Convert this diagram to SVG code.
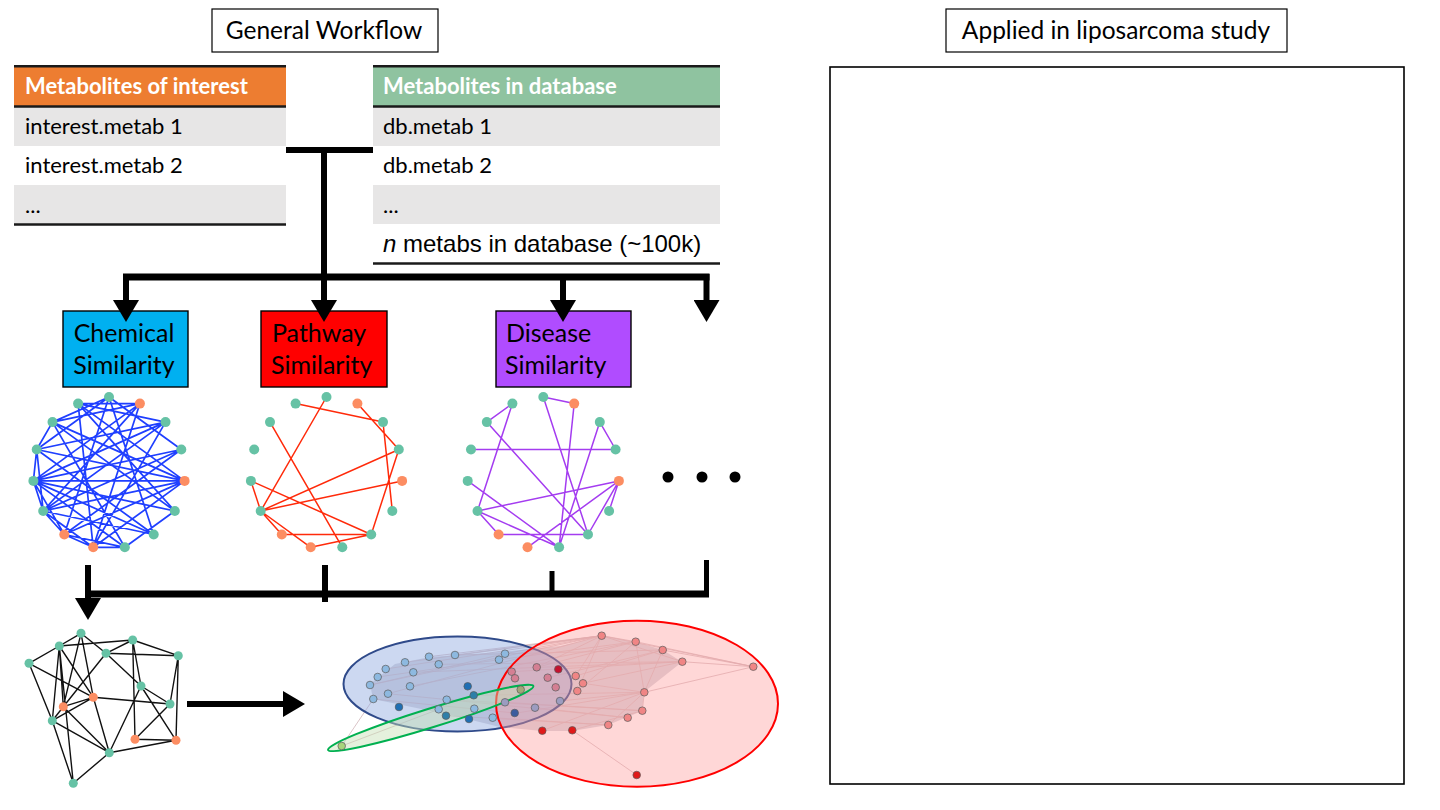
<svg xmlns="http://www.w3.org/2000/svg" xmlns:xlink="http://www.w3.org/1999/xlink" width="1440" height="810" viewBox="0 0 1440 810">
<style>
.t{font-family:Lato,"Open Sans","Liberation Sans",sans-serif;fill:#000}
.ar{font-family:"Liberation Sans",Arial,sans-serif;fill:#000}
.hd{font-weight:bold;fill:#fff}
.rule{stroke:#1a1a1a;stroke-width:2.6}
.gray{fill:#E7E6E6}
.conn{stroke:#000;fill:none;stroke-linecap:butt}
.gn{fill:#66C2A5}
.on{fill:#FC8D62}
.bk{stroke:#111;stroke-width:1.4;fill:none}
.cn{stroke:#5a5a5a;stroke-width:0.7}
.le{stroke:#D2B6BA;stroke-width:0.8;fill:none}
</style>
<defs>
<marker id="ah" markerUnits="userSpaceOnUse" viewBox="0 0 22 26" refX="0" refY="13" markerWidth="22" markerHeight="26" orient="auto">
<path d="M0,0 L22,13 L0,26 Z" fill="#000"/>
</marker>
<g id="ring">
<circle cx="0" cy="-76" r="5" class="gn"/>
<circle cx="30.9" cy="-69.4" r="5" class="on"/>
<circle cx="56.5" cy="-50.9" r="5" class="gn"/>
<circle cx="72.3" cy="-23.5" r="5" class="gn"/>
<circle cx="75.6" cy="7.9" r="5" class="on"/>
<circle cx="65.8" cy="38" r="5" class="gn"/>
<circle cx="44.7" cy="61.5" r="5" class="gn"/>
<circle cx="15.8" cy="74.3" r="5" class="gn"/>
<circle cx="-15.8" cy="74.3" r="5" class="on"/>
<circle cx="-44.7" cy="61.5" r="5" class="on"/>
<circle cx="-65.8" cy="38" r="5" class="gn"/>
<circle cx="-75.6" cy="7.9" r="5" class="gn"/>
<circle cx="-72.3" cy="-23.5" r="5" class="gn"/>
<circle cx="-56.5" cy="-50.9" r="5" class="gn"/>
<circle cx="-30.9" cy="-69.4" r="5" class="gn"/>
</g>
</defs>
<rect width="1440" height="810" fill="#fff"/>

<g id="title-general">
<rect x="212" y="9" width="226" height="43" fill="#fff" stroke="#000" stroke-width="1.2"/>
<text class="t" x="324" y="39" font-size="24.5" text-anchor="middle">General Workflow</text>
</g>
<g id="title-applied">
<rect x="946" y="9" width="341" height="43" fill="#fff" stroke="#000" stroke-width="1.2"/>
<text class="t" x="1116" y="39" font-size="24.5" text-anchor="middle">Applied in liposarcoma study</text>
</g>
<g id="applied-panel">
<rect x="830" y="67" width="574" height="717" fill="#fff" stroke="#000" stroke-width="1.6"/>
</g>

<g id="table-interest">
<rect x="14" y="67" width="272" height="39" fill="#ED7D31"/>
<rect x="14" y="107" width="272" height="39" class="gray"/>
<rect x="14" y="185" width="272" height="39" class="gray"/>
<line x1="14" y1="66.3" x2="286" y2="66.3" class="rule"/>
<line x1="14" y1="106.5" x2="286" y2="106.5" class="rule" stroke-width="3"/>
<line x1="14" y1="224.5" x2="286" y2="224.5" class="rule"/>
<text class="t hd" x="25" y="94" font-size="22">Metabolites of interest</text>
<text class="t" x="25" y="134" font-size="22">interest.metab 1</text>
<text class="t" x="25" y="173" font-size="22">interest.metab 2</text>
<text class="t" x="25" y="213" font-size="22">...</text>
</g>

<g id="table-database">
<rect x="373" y="67" width="347" height="39" fill="#8FC3A0"/>
<rect x="373" y="107" width="347" height="39" class="gray"/>
<rect x="373" y="185" width="347" height="39" class="gray"/>
<line x1="373" y1="66.3" x2="720" y2="66.3" class="rule"/>
<line x1="373" y1="106.5" x2="720" y2="106.5" class="rule" stroke-width="3"/>
<line x1="373" y1="263.5" x2="720" y2="263.5" class="rule"/>
<text class="t hd" x="383" y="94" font-size="22">Metabolites in database</text>
<text class="t" x="383" y="134" font-size="22">db.metab 1</text>
<text class="t" x="383" y="173" font-size="22">db.metab 2</text>
<text class="t" x="383" y="213" font-size="22">...</text>
<text class="ar" x="383" y="252" font-size="24"><tspan font-style="italic">n</tspan> metabs in database (~100k)</text>
</g>

<g id="box-chemical">
<rect x="63" y="311" width="125" height="76" fill="#00B0F0" stroke="#000" stroke-width="1.4"/>
<text class="t" x="124" y="342" font-size="25" text-anchor="middle">Chemical</text>
<text class="t" x="124" y="374" font-size="25" text-anchor="middle">Similarity</text>
</g>
<g id="box-pathway">
<rect x="261" y="311" width="126" height="76" fill="#FF0000" stroke="#000" stroke-width="1.4"/>
<text class="t" x="272" y="342" font-size="25">Pathway</text>
<text class="t" x="271" y="374" font-size="25">Similarity</text>
</g>
<g id="box-disease">
<rect x="496" y="311" width="135" height="76" fill="#B04CFF" stroke="#000" stroke-width="1.4"/>
<text class="t" x="506" y="342" font-size="25">Disease</text>
<text class="t" x="505" y="374" font-size="25">Similarity</text>
</g>

<g id="net-chemical" transform="translate(109,473)">
<path fill="none" stroke="#1F3FFF" stroke-width="1.7" d="M0,-76L-56.5,-50.9 M0,-76L-72.3,-23.5 M0,-76L44.7,61.5 M0,-76L-44.7,61.5 M0,-76L72.3,-23.5 M30.9,-69.4L-56.5,-50.9 M30.9,-69.4L-75.6,7.9 M30.9,-69.4L-65.8,38 M30.9,-69.4L-15.8,74.3 M30.9,-69.4L-30.9,-69.4 M-30.9,-69.4L56.5,-50.9 M-30.9,-69.4L-15.8,74.3 M-30.9,-69.4L65.8,38 M-30.9,-69.4L75.6,7.9 M-56.5,-50.9L65.8,38 M-56.5,-50.9L75.6,7.9 M-56.5,-50.9L15.8,74.3 M56.5,-50.9L-72.3,-23.5 M56.5,-50.9L-75.6,7.9 M56.5,-50.9L-65.8,38 M56.5,-50.9L-15.8,74.3 M72.3,-23.5L-75.6,7.9 M72.3,-23.5L-65.8,38 M72.3,-23.5L-44.7,61.5 M75.6,7.9L-75.6,7.9 M75.6,7.9L-65.8,38 M75.6,7.9L-72.3,-23.5 M75.6,7.9L-44.7,61.5 M75.6,7.9L-15.8,74.3 M65.8,38L-75.6,7.9 M65.8,38L15.8,74.3 M44.7,61.5L-72.3,-23.5 M44.7,61.5L-75.6,7.9 M44.7,61.5L-65.8,38 M15.8,74.3L-44.7,61.5 M15.8,74.3L-15.8,74.3 M15.8,74.3L-75.6,7.9 M-15.8,74.3L-44.7,61.5 M-15.8,74.3L-65.8,38 M-44.7,61.5L-65.8,38 M-44.7,61.5L-75.6,7.9 M-65.8,38L-72.3,-23.5 M-65.8,38L-75.6,7.9 M-75.6,7.9L-72.3,-23.5 M-72.3,-23.5L-56.5,-50.9"/>
<use href="#ring" xlink:href="#ring"/>
</g>

<g id="net-pathway" transform="translate(326.5,473)">
<path fill="none" stroke="#FF2A0A" stroke-width="1.5" d="M-30.9,-69.4L56.5,-50.9 M30.9,-69.4L72.3,-23.5 M56.5,-50.9L65.8,38 M0,-76L-65.8,38 M-56.5,-50.9L15.8,74.3 M72.3,-23.5L-65.8,38 M72.3,-23.5L44.7,61.5 M75.6,7.9L-65.8,38 M-75.6,7.9L-65.8,38 M-75.6,7.9L44.7,61.5 M-65.8,38L-44.7,61.5 M-65.8,38L-15.8,74.3 M-44.7,61.5L44.7,61.5 M-15.8,74.3L44.7,61.5"/>
<use href="#ring" xlink:href="#ring"/>
</g>

<g id="net-disease" transform="translate(543.3,473)">
<path fill="none" stroke="#A43CF0" stroke-width="1.5" d="M-56.5,-50.9L-30.9,-69.4 M-30.9,-69.4L-65.8,38 M-56.5,-50.9L44.7,61.5 M0,-76L30.9,-69.4 M0,-76L44.7,61.5 M30.9,-69.4L15.8,74.3 M56.5,-50.9L72.3,-23.5 M56.5,-50.9L15.8,74.3 M-72.3,-23.5L72.3,-23.5 M-75.6,7.9L15.8,74.3 M-65.8,38L75.6,7.9 M-65.8,38L-44.7,61.5 M-65.8,38L15.8,74.3 M75.6,7.9L65.8,38 M75.6,7.9L44.7,61.5 M75.6,7.9L-15.8,74.3 M-44.7,61.5L44.7,61.5"/>
<use href="#ring" xlink:href="#ring"/>
</g>

<g id="more-dots">
<circle cx="668" cy="477" r="5.5" fill="#000"/>
<circle cx="702" cy="477" r="5.5" fill="#000"/>
<circle cx="735" cy="477" r="5.5" fill="#000"/>
</g>

<g id="net-combined">
<path class="bk" d="M29,663.3L59.3,646 M29,663.3L52.3,720.7 M29,663.3L93.3,697.3 M59.3,646L81,633.3 M59.3,646L132.7,640 M59.3,646L63.3,706.7 M59.3,646L52.3,720.7 M59.3,646L93.3,697.3 M59.3,646L73.3,783.3 M81,633.3L106,653.3 M81,633.3L63.3,706.7 M81,633.3L93.3,697.3 M132.7,640L106,653.3 M132.7,640L178.3,655.7 M132.7,640L135,739.3 M132.7,640L141,686 M106,653.3L178.3,655.7 M106,653.3L141,686 M106,653.3L63.3,706.7 M178.3,655.7L170,704 M178.3,655.7L176,740.3 M141,686L170,704 M141,686L109.3,752.7 M141,686L176,740.3 M93.3,697.3L63.3,706.7 M93.3,697.3L170,704 M93.3,697.3L109.3,752.7 M93.3,697.3L52.3,720.7 M63.3,706.7L52.3,720.7 M63.3,706.7L109.3,752.7 M170,704L135,739.3 M52.3,720.7L109.3,752.7 M52.3,720.7L73.3,783.3 M135,739.3L176,740.3 M109.3,752.7L176,740.3 M109.3,752.7L73.3,783.3"/>
<circle cx="81" cy="633.3" r="4.5" class="gn"/>
<circle cx="59.3" cy="646" r="4.5" class="gn"/>
<circle cx="132.7" cy="640" r="4.5" class="gn"/>
<circle cx="106" cy="653.3" r="4.5" class="gn"/>
<circle cx="178.3" cy="655.7" r="4.5" class="gn"/>
<circle cx="29" cy="663.3" r="4.5" class="gn"/>
<circle cx="141" cy="686" r="4.5" class="gn"/>
<circle cx="93.3" cy="697.3" r="4.5" class="on"/>
<circle cx="63.3" cy="706.7" r="4.5" class="on"/>
<circle cx="170" cy="704" r="4.5" class="gn"/>
<circle cx="52.3" cy="720.7" r="4.5" class="gn"/>
<circle cx="135" cy="739.3" r="4.5" class="on"/>
<circle cx="176" cy="740.3" r="4.5" class="on"/>
<circle cx="109.3" cy="752.7" r="4.5" class="gn"/>
<circle cx="73.3" cy="783.3" r="4.5" class="gn"/>
</g>

<g id="cluster-view">
<polygon points="370,684 395,664 430,657 500,652 560,646 602,636 636,642 663,650 682,662 644,692 642,711 608,725 572,731 542,731 500,727 455,716 373,699" fill="#9E98A8" opacity="0.4"/>
<path class="le" d="M601.7,635.7L370,685 M601.7,635.7L405,662.3 M601.7,635.7L455,655 M601.7,635.7L505,653.7 M601.7,635.7L536.7,667.3 M601.7,635.7L575.7,676 M601.7,635.7L577.3,691 M601.7,635.7L388,693.7 M601.7,635.7L429,656.7 M635.7,641.7L536.7,667.3 M635.7,641.7L499,659.7 M635.7,641.7L410,686.3 M635.7,641.7L577.3,691 M635.7,641.7L644.3,692.3 M635.7,641.7L601.7,635.7 M662.7,650L753.3,666.7 M662.7,650L644.3,692.3 M662.7,650L575.7,676 M662.7,650L547.7,677.7 M662.7,650L455,655 M682.3,661.7L753.3,666.7 M682.3,661.7L601.7,635.7 M682.3,661.7L583,683.3 M682.3,661.7L511.7,671.7 M682.3,661.7L438.7,664.3 M601.7,635.7L753.3,666.7 M644.3,692.3L753.3,666.7 M635.7,641.7L753.3,666.7 M644.3,692.3L642.3,710.7 M644.3,692.3L608.3,725 M644.3,692.3L583,683.3 M644.3,692.3L560,701 M644.3,692.3L515,713.3 M644.3,692.3L473.7,695.3 M644.3,692.3L542.3,730.7 M642.3,710.7L572.3,730.3 M642.3,710.7L505,702.3 M642.3,710.7L446.7,699.7 M627.7,717.7L535,707.7 M608.3,725L492.7,717.7 M608.3,725L446,715.7 M572.3,730.3L636.7,775 M341.7,746L373.3,699 M341.7,746L438.7,709.3 M370,685L505,653.7 M373.3,699L514.7,713 M377.7,677L499,659.7 M385.7,669L601.7,635.7 M413.3,672.3L682.3,661.7 M388,693.7L627.7,717.7"/>
<ellipse cx="457.5" cy="684" rx="114" ry="47.5" fill="#8FA9E0" fill-opacity="0.45" stroke="#2F4A8A" stroke-width="2"/>
<ellipse cx="637" cy="703.7" rx="141" ry="83" fill="#FF9C9C" fill-opacity="0.4" stroke="#FF0000" stroke-width="2"/>
<ellipse cx="430.7" cy="718" rx="107.5" ry="9.5" transform="rotate(-17.3 430.7 718)" fill="#C5E0B4" fill-opacity="0.45" stroke="#00B050" stroke-width="2"/>
<g class="cn" fill="#8DB9E0">
<circle cx="370" cy="685" r="3.8"/><circle cx="373.3" cy="699" r="3.8"/><circle cx="377.7" cy="677" r="3.8"/><circle cx="385.7" cy="669" r="3.8"/><circle cx="388" cy="693.7" r="3.8"/><circle cx="405" cy="662.3" r="3.8"/><circle cx="410" cy="686.3" r="3.8"/><circle cx="413.3" cy="672.3" r="3.8"/><circle cx="429" cy="656.7" r="3.8"/><circle cx="438.7" cy="664.3" r="3.8"/><circle cx="455" cy="655" r="3.8"/><circle cx="499" cy="659.7" r="3.8"/><circle cx="505" cy="653.7" r="3.8"/><circle cx="446.7" cy="699.7" r="3.8"/><circle cx="438.7" cy="709.3" r="3.8"/><circle cx="474.3" cy="708.7" r="3.8"/><circle cx="492.7" cy="717.7" r="3.8"/>
</g>
<g class="cn" fill="#1F6FB4"><circle cx="399" cy="707" r="3.8"/><circle cx="467.7" cy="686.3" r="3.8"/><circle cx="469" cy="719" r="3.8"/></g>
<g class="cn" fill="#2E7FA8"><circle cx="473.7" cy="695.3" r="3.8"/><circle cx="446" cy="715.7" r="3.8"/></g>
<g class="cn" fill="#3C5C9E"><circle cx="514.7" cy="713" r="3.8"/></g>
<g class="cn" fill="#9C9CC0"><circle cx="505" cy="702.3" r="3.8"/><circle cx="535" cy="707.7" r="3.8"/><circle cx="560" cy="701" r="3.8"/></g>
<circle class="cn" cx="341.7" cy="746" r="3.8" fill="#A9D47C"/>
<circle class="cn" cx="520.7" cy="689.7" r="3.8" fill="#A0A878"/>
<g class="cn" fill="#D47F93"><circle cx="511.7" cy="671.7" r="3.8"/><circle cx="515" cy="678.3" r="3.8"/><circle cx="536.7" cy="667.3" r="3.8"/><circle cx="547.7" cy="677.7" r="3.8"/><circle cx="555.7" cy="687.3" r="3.8"/></g>
<circle class="cn" cx="558.3" cy="669.3" r="3.8" fill="#C4122F"/>
<g class="cn" fill="#F08585">
<circle cx="575.7" cy="676" r="3.8"/><circle cx="583" cy="683.3" r="3.8"/><circle cx="577.3" cy="691" r="3.8"/><circle cx="601.7" cy="635.7" r="3.8"/><circle cx="635.7" cy="641.7" r="3.8"/><circle cx="662.7" cy="650" r="3.8"/><circle cx="682.3" cy="661.7" r="3.8"/><circle cx="753.3" cy="666.7" r="3.8"/><circle cx="644.3" cy="692.3" r="3.8"/><circle cx="642.3" cy="710.7" r="3.8"/><circle cx="627.7" cy="717.7" r="3.8"/><circle cx="608.3" cy="725" r="3.8"/>
</g>
<g class="cn" fill="#E01A1A"><circle cx="542.3" cy="730.7" r="3.8"/><circle cx="572.3" cy="730.3" r="3.8"/><circle cx="636.7" cy="775" r="3.8"/></g>
</g>

<g id="connectors">
<path class="conn" stroke-width="6" d="M286,150 H373"/>
<path class="conn" stroke-width="6" d="M324,147 V300" marker-end="url(#ah)"/>
<path class="conn" stroke-width="7" d="M123,277 H709.5"/>
<path class="conn" stroke-width="6" d="M126,274 V300" marker-end="url(#ah)"/>
<path class="conn" stroke-width="6" d="M563,277 V300" marker-end="url(#ah)"/>
<path class="conn" stroke-width="6" d="M706.5,274 V300" marker-end="url(#ah)"/>
<path class="conn" stroke-width="6" d="M88,565 V598" marker-end="url(#ah)"/>
<path class="conn" stroke-width="7" d="M85,594 H709"/>
<path class="conn" stroke-width="6" d="M325,565 V602"/>
<path class="conn" stroke-width="5" d="M552,571 V594"/>
<path class="conn" stroke-width="5" d="M706.5,560 V597"/>
<path class="conn" stroke-width="6" d="M187,704 H283" marker-end="url(#ah)"/>
</g>
</svg>
